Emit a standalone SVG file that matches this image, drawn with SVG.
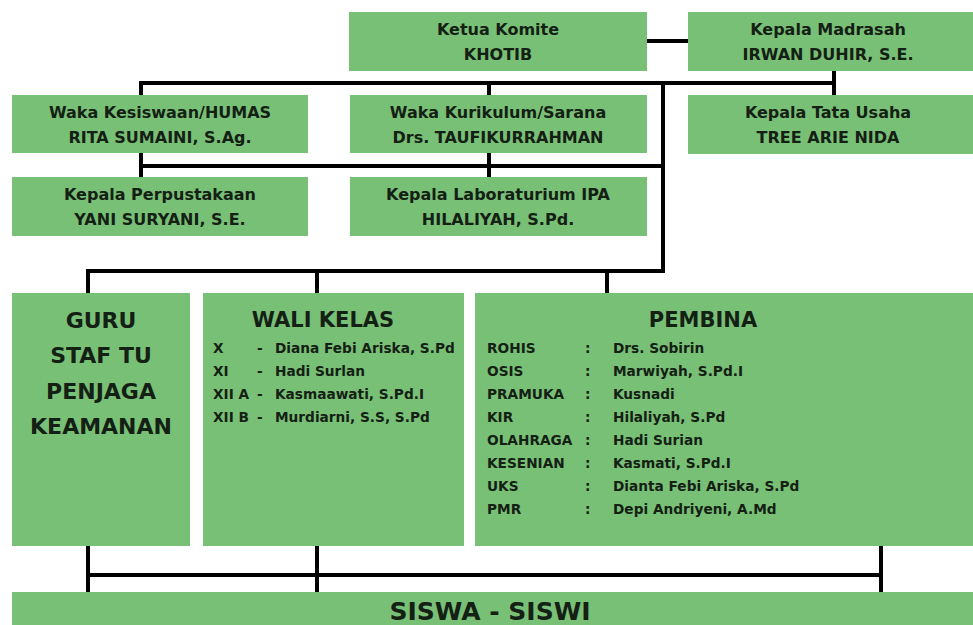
<svg xmlns="http://www.w3.org/2000/svg" width="973" height="625" viewBox="0 0 973 625">
<style>
.box{fill:#79c077;}
.t{font-family:"DejaVu Sans","Liberation Sans",sans-serif;font-weight:bold;fill:#142014;}
.c{text-anchor:middle;font-size:16px;}
.big{text-anchor:middle;font-size:22px;}
.ttl{text-anchor:middle;font-size:21px;}
.row{font-size:13.7px;}
.ln{stroke:#000;stroke-width:4;fill:none;stroke-linecap:square;}
</style>
<rect width="973" height="625" fill="#fff"/>
<g id="connectors">
<path class="ln" d="M647 41H688"/>
<path class="ln" d="M834 71V95"/>
<path class="ln" d="M141 83H834"/>
<path class="ln" d="M141 83V95"/>
<path class="ln" d="M489 83V95"/>
<path class="ln" d="M141 153V177"/>
<path class="ln" d="M489 153V177"/>
<path class="ln" d="M141 166H663"/>
<path class="ln" d="M663 83V271"/>
<path class="ln" d="M88 271H663"/>
<path class="ln" d="M88 271V293"/>
<path class="ln" d="M317 271V293"/>
<path class="ln" d="M607 271V293"/>
<path class="ln" d="M88 546V592"/>
<path class="ln" d="M317 546V592"/>
<path class="ln" d="M881 546V592"/>
<path class="ln" d="M88 575H881"/>
</g>
<g id="ketua">
<rect class="box" x="349" y="12" width="298" height="59"/>
<text class="t c" x="498" y="35">Ketua Komite</text>
<text class="t c" x="498" y="60">KHOTIB</text>
</g>
<g id="kepala-madrasah">
<rect class="box" x="688" y="12" width="290" height="59"/>
<text class="t c" x="828" y="35">Kepala Madrasah</text>
<text class="t c" x="828" y="60">IRWAN DUHIR, S.E.</text>
</g>
<g id="waka-kesiswaan">
<rect class="box" x="12" y="95" width="296" height="58"/>
<text class="t c" x="160" y="118">Waka Kesiswaan/HUMAS</text>
<text class="t c" x="160" y="143">RITA SUMAINI, S.Ag.</text>
</g>
<g id="waka-kurikulum">
<rect class="box" x="350" y="95" width="297" height="58"/>
<text class="t c" x="498" y="118">Waka Kurikulum/Sarana</text>
<text class="t c" x="498" y="143">Drs. TAUFIKURRAHMAN</text>
</g>
<g id="kepala-tu">
<rect class="box" x="688" y="95" width="290" height="59"/>
<text class="t c" x="828" y="118">Kepala Tata Usaha</text>
<text class="t c" x="828" y="143">TREE ARIE NIDA</text>
</g>
<g id="perpustakaan">
<rect class="box" x="12" y="177" width="296" height="59"/>
<text class="t c" x="160" y="200">Kepala Perpustakaan</text>
<text class="t c" x="160" y="225">YANI SURYANI, S.E.</text>
</g>
<g id="laboratorium">
<rect class="box" x="350" y="177" width="297" height="59"/>
<text class="t c" x="498" y="200">Kepala Laboraturium IPA</text>
<text class="t c" x="498" y="225">HILALIYAH, S.Pd.</text>
</g>
<g id="guru">
<rect class="box" x="12" y="293" width="178" height="253"/>
<text class="t big" x="101" y="328">GURU</text>
<text class="t big" x="101" y="363">STAF TU</text>
<text class="t big" x="101" y="399">PENJAGA</text>
<text class="t big" x="101" y="434">KEAMANAN</text>
</g>
<g id="wali-kelas">
<rect class="box" x="203" y="293" width="261" height="253"/>
<text class="t ttl" x="323" y="327">WALI KELAS</text>
<g class="t row">
<text x="213" y="353">X</text><text x="257" y="353">-</text><text x="275" y="353">Diana Febi Ariska, S.Pd</text>
<text x="213" y="376">XI</text><text x="257" y="376">-</text><text x="275" y="376">Hadi Surlan</text>
<text x="213" y="399">XII A</text><text x="257" y="399">-</text><text x="275" y="399">Kasmaawati, S.Pd.I</text>
<text x="213" y="422">XII B</text><text x="257" y="422">-</text><text x="275" y="422">Murdiarni, S.S, S.Pd</text>
</g>
</g>
<g id="pembina">
<rect class="box" x="475" y="293" width="503" height="253"/>
<text class="t ttl" x="703" y="327">PEMBINA</text>
<g class="t row">
<text x="487" y="353">ROHIS</text><text x="585" y="353">:</text><text x="613" y="353">Drs. Sobirin</text>
<text x="487" y="376">OSIS</text><text x="585" y="376">:</text><text x="613" y="376">Marwiyah, S.Pd.I</text>
<text x="487" y="399">PRAMUKA</text><text x="585" y="399">:</text><text x="613" y="399">Kusnadi</text>
<text x="487" y="422">KIR</text><text x="585" y="422">:</text><text x="613" y="422">Hilaliyah, S.Pd</text>
<text x="487" y="445">OLAHRAGA</text><text x="585" y="445">:</text><text x="613" y="445">Hadi Surian</text>
<text x="487" y="468">KESENIAN</text><text x="585" y="468">:</text><text x="613" y="468">Kasmati, S.Pd.I</text>
<text x="487" y="491">UKS</text><text x="585" y="491">:</text><text x="613" y="491">Dianta Febi Ariska, S.Pd</text>
<text x="487" y="514">PMR</text><text x="585" y="514">:</text><text x="613" y="514">Depi Andriyeni, A.Md</text>
</g>
</g>
<g id="siswa">
<rect class="box" x="12" y="592" width="966" height="40"/>
<text class="t" x="490" y="620" text-anchor="middle" font-size="25">SISWA - SISWI</text>
</g>
</svg>
